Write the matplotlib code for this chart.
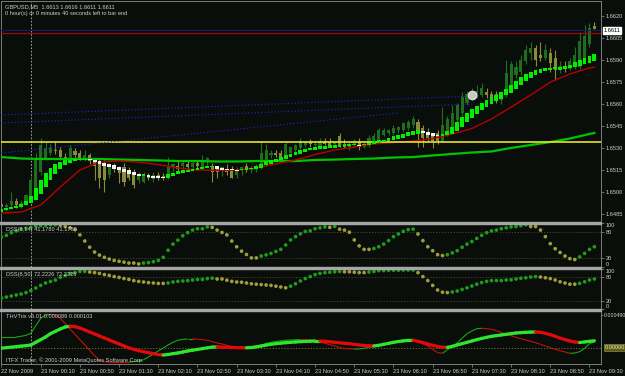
import numpy as np
import matplotlib.pyplot as plt
from matplotlib.patches import Rectangle
from matplotlib.collections import LineCollection
import matplotlib.transforms as mtransforms

plt.rcParams['font.family'] = ['Liberation Sans', 'DejaVu Sans']

# GBPUSD M5, bars from 22 Nov 23:30 to 23 Nov 09:35
opens = [1.6492, 1.6490, 1.6491, 1.6494, 1.6491, 1.6493, 1.6495, 1.6503, 1.6514, 1.6523,
         1.6527, 1.6529, 1.6529, 1.6524, 1.6522, 1.6528, 1.6527, 1.6523, 1.6525, 1.6521,
         1.6520, 1.6518, 1.6512, 1.6518, 1.6516, 1.6517, 1.6515, 1.6514, 1.6508, 1.6507,
         1.6511, 1.6509, 1.6512, 1.6511, 1.6510, 1.6517, 1.6518, 1.6518, 1.6519, 1.6517,
         1.6520, 1.6517, 1.6521, 1.6518, 1.6516, 1.6515, 1.6516, 1.6516, 1.6512, 1.6515,
         1.6518, 1.6515, 1.6516, 1.6517, 1.6520, 1.6525, 1.6527, 1.6527, 1.6525, 1.6527,
         1.6529, 1.6530, 1.6532, 1.6534, 1.6532, 1.6531, 1.6535, 1.6534, 1.6533, 1.6538,
         1.6533, 1.6531, 1.6533, 1.6535, 1.6531, 1.6532, 1.6535, 1.6535, 1.6539, 1.6540,
         1.6540, 1.6542, 1.6542, 1.6544, 1.6546, 1.6548, 1.6544, 1.6540, 1.6538, 1.6540,
         1.6535, 1.6539, 1.6544, 1.6549, 1.6554, 1.6561, 1.6565, 1.6566, 1.6566, 1.6568,
         1.6567, 1.6567, 1.6563, 1.6567, 1.6573, 1.6580, 1.6582, 1.6589, 1.6595, 1.6598,
         1.6593, 1.6591, 1.6595, 1.6591, 1.6584, 1.6585, 1.6584, 1.6586, 1.6585, 1.6590,
         1.6601, 1.6613]
highs = [1.6495, 1.6493, 1.6500, 1.6496, 1.6495, 1.6499, 1.6511, 1.6527, 1.6537, 1.6535,
         1.6533, 1.6534, 1.6531, 1.6527, 1.6532, 1.6530, 1.6529, 1.6529, 1.6527, 1.6523,
         1.6523, 1.6522, 1.6520, 1.6520, 1.6518, 1.6520, 1.6517, 1.6516, 1.6514, 1.6514,
         1.6513, 1.6514, 1.6514, 1.6513, 1.6524, 1.6520, 1.6521, 1.6522, 1.6521, 1.6521,
         1.6522, 1.6525, 1.6524, 1.6520, 1.6518, 1.6518, 1.6519, 1.6518, 1.6517, 1.6518,
         1.6520, 1.6518, 1.6519, 1.6535, 1.6533, 1.6529, 1.6529, 1.6529, 1.6534, 1.6531,
         1.6533, 1.6537, 1.6535, 1.6536, 1.6535, 1.6537, 1.6537, 1.6537, 1.6535, 1.6540,
         1.6536, 1.6535, 1.6536, 1.6537, 1.6535, 1.6539, 1.6540, 1.6544, 1.6544, 1.6543,
         1.6546, 1.6545, 1.6548, 1.6549, 1.6552, 1.6550, 1.6546, 1.6544, 1.6540, 1.6542,
         1.6558, 1.6552, 1.6559, 1.6561, 1.6568, 1.6569, 1.6571, 1.6573, 1.6574, 1.6571,
         1.6569, 1.6569, 1.6568, 1.6590, 1.6589, 1.6589, 1.6593, 1.6600, 1.6602, 1.6600,
         1.6602, 1.6601, 1.6598, 1.6597, 1.6589, 1.6589, 1.6591, 1.6599, 1.6609, 1.6614,
         1.6615, 1.6616]
lows = [1.6489, 1.6487, 1.6489, 1.6489, 1.6489, 1.6491, 1.6493, 1.6501, 1.6512, 1.6522,
        1.6525, 1.6526, 1.6522, 1.6520, 1.6520, 1.6523, 1.6522, 1.6521, 1.6519, 1.6508,
        1.6503, 1.6500, 1.6510, 1.6514, 1.6506, 1.6504, 1.6508, 1.6503, 1.6506, 1.6506,
        1.6508, 1.6507, 1.6508, 1.6508, 1.6509, 1.6514, 1.6514, 1.6515, 1.6515, 1.6516,
        1.6516, 1.6516, 1.6518, 1.6507, 1.6510, 1.6511, 1.6512, 1.6510, 1.6510, 1.6512,
        1.6514, 1.6513, 1.6514, 1.6516, 1.6518, 1.6523, 1.6524, 1.6522, 1.6524, 1.6525,
        1.6527, 1.6529, 1.6531, 1.6531, 1.6530, 1.6530, 1.6532, 1.6531, 1.6531, 1.6531,
        1.6530, 1.6529, 1.6531, 1.6529, 1.6530, 1.6531, 1.6534, 1.6534, 1.6538, 1.6539,
        1.6539, 1.6540, 1.6541, 1.6542, 1.6544, 1.6531, 1.6531, 1.6534, 1.6530, 1.6533,
        1.6534, 1.6538, 1.6542, 1.6548, 1.6552, 1.6559, 1.6563, 1.6564, 1.6565, 1.6564,
        1.6563, 1.6561, 1.6560, 1.6565, 1.6571, 1.6578, 1.6580, 1.6587, 1.6590, 1.6586,
        1.6589, 1.6590, 1.6582, 1.6576, 1.6581, 1.6582, 1.6583, 1.6584, 1.6584, 1.6588,
        1.6599, 1.6611]
closes = [1.6490, 1.6491, 1.6494, 1.6491, 1.6493, 1.6498, 1.6508, 1.6522, 1.6532, 1.6530,
          1.6530, 1.6528, 1.6524, 1.6522, 1.6530, 1.6525, 1.6523, 1.6525, 1.6521, 1.6518,
          1.6510, 1.6508, 1.6518, 1.6516, 1.6513, 1.6507, 1.6510, 1.6505, 1.6512, 1.6512,
          1.6510, 1.6512, 1.6510, 1.6510, 1.6517, 1.6519, 1.6516, 1.6520, 1.6517, 1.6520,
          1.6518, 1.6522, 1.6523, 1.6514, 1.6514, 1.6517, 1.6514, 1.6510, 1.6515, 1.6517,
          1.6515, 1.6516, 1.6518, 1.6527, 1.6529, 1.6527, 1.6525, 1.6523, 1.6533, 1.6531,
          1.6532, 1.6535, 1.6534, 1.6533, 1.6533, 1.6535, 1.6533, 1.6532, 1.6534, 1.6532,
          1.6531, 1.6533, 1.6535, 1.6531, 1.6533, 1.6537, 1.6538, 1.6542, 1.6542, 1.6542,
          1.6544, 1.6544, 1.6547, 1.6548, 1.6550, 1.6542, 1.6537, 1.6537, 1.6535, 1.6535,
          1.6546, 1.6550, 1.6554, 1.6559, 1.6565, 1.6567, 1.6566, 1.6569, 1.6571, 1.6566,
          1.6565, 1.6563, 1.6566, 1.6581, 1.6587, 1.6585, 1.6590, 1.6597, 1.6598, 1.6590,
          1.6591, 1.6597, 1.6588, 1.6583, 1.6586, 1.6584, 1.6589, 1.6593, 1.6603, 1.6606,
          1.6612, 1.6611]

# smoothed Heiken Ashi bodies
ha_open = [1.64865, 1.64876, 1.64886, 1.64893, 1.64899, 1.64910, 1.64927, 1.64950, 1.64988, 1.65035,
           1.65083, 1.65124, 1.65158, 1.65182, 1.65199, 1.65212, 1.65219, 1.65222, 1.65229, 1.65222,
           1.65212, 1.65202, 1.65192, 1.65182, 1.65171, 1.65161, 1.65151, 1.65137, 1.65127, 1.65110,
           1.65117, 1.65110, 1.65107, 1.65103, 1.65100, 1.65110, 1.65124, 1.65131, 1.65137, 1.65144,
           1.65151, 1.65158, 1.65165, 1.65171, 1.65175, 1.65168, 1.65161, 1.65158, 1.65154, 1.65151,
           1.65154, 1.65158, 1.65161, 1.65168, 1.65182, 1.65195, 1.65205, 1.65216, 1.65226, 1.65239,
           1.65250, 1.65260, 1.65273, 1.65284, 1.65290, 1.65294, 1.65297, 1.65301, 1.65304, 1.65307,
           1.65311, 1.65314, 1.65318, 1.65324, 1.65318, 1.65321, 1.65328, 1.65335, 1.65341, 1.65348,
           1.65355, 1.65362, 1.65372, 1.65382, 1.65392, 1.65399, 1.65413, 1.65409, 1.65403, 1.65392,
           1.65382, 1.65386, 1.65396, 1.65416, 1.65443, 1.65477, 1.65505, 1.65532, 1.65559, 1.65579,
           1.65600, 1.65620, 1.65637, 1.65658, 1.65678, 1.65702, 1.65729, 1.65756, 1.65777, 1.65794,
           1.65811, 1.65824, 1.65831, 1.65838, 1.65834, 1.65838, 1.65845, 1.65851, 1.65858, 1.65872,
           1.65882, 1.65892]
ha_close = [1.64886, 1.64893, 1.64899, 1.64906, 1.64920, 1.64940, 1.64974, 1.65029, 1.65083, 1.65131,
            1.65165, 1.65192, 1.65205, 1.65216, 1.65222, 1.65226, 1.65229, 1.65229, 1.65219, 1.65205,
            1.65192, 1.65178, 1.65171, 1.65161, 1.65151, 1.65137, 1.65127, 1.65117, 1.65107, 1.65124,
            1.65103, 1.65100, 1.65100, 1.65097, 1.65124, 1.65134, 1.65141, 1.65148, 1.65154, 1.65161,
            1.65165, 1.65171, 1.65175, 1.65178, 1.65161, 1.65154, 1.65151, 1.65151, 1.65144, 1.65161,
            1.65165, 1.65168, 1.65178, 1.65195, 1.65209, 1.65219, 1.65229, 1.65239, 1.65250, 1.65263,
            1.65273, 1.65287, 1.65297, 1.65304, 1.65307, 1.65311, 1.65314, 1.65318, 1.65321, 1.65324,
            1.65328, 1.65331, 1.65331, 1.65311, 1.65331, 1.65338, 1.65345, 1.65352, 1.65358, 1.65369,
            1.65379, 1.65389, 1.65399, 1.65409, 1.65416, 1.65420, 1.65403, 1.65392, 1.65382, 1.65379,
            1.65396, 1.65416, 1.65443, 1.65477, 1.65511, 1.65539, 1.65566, 1.65586, 1.65607, 1.65627,
            1.65647, 1.65661, 1.65681, 1.65702, 1.65729, 1.65756, 1.65783, 1.65804, 1.65817, 1.65831,
            1.65841, 1.65845, 1.65848, 1.65851, 1.65851, 1.65858, 1.65868, 1.65885, 1.65899, 1.65913,
            1.65926, 1.65940]

# moving averages, read every 4 bars
ma_idx = [0, 4, 8, 12, 16, 20, 24, 28, 32, 36, 40, 44, 48, 52, 56, 60,
          64, 68, 72, 76, 80, 84, 88, 92, 96, 100, 104, 108, 112, 116, 120, 121]
ma_red = [1.64859, 1.64865, 1.64913, 1.65035, 1.65151, 1.65205, 1.65212, 1.65205,
          1.65188, 1.65165, 1.65151, 1.65148, 1.65151, 1.65165, 1.65192, 1.65219,
          1.65256, 1.65287, 1.65307, 1.65328, 1.65338, 1.65348, 1.65365, 1.65396,
          1.65433, 1.65498, 1.65579, 1.65661, 1.65749, 1.65804, 1.65845, 1.65851]
ma_green = [1.65239, 1.65229, 1.65226, 1.65226, 1.65226, 1.65226, 1.65222, 1.65219,
            1.65216, 1.65212, 1.65212, 1.65209, 1.65209, 1.65212, 1.65212, 1.65212,
            1.65219, 1.65222, 1.65226, 1.65229, 1.65236, 1.65239, 1.65250, 1.65260,
            1.65270, 1.65277, 1.65301, 1.65321, 1.65341, 1.65365, 1.65396, 1.65403]

level_yellow = 1.6534
bid_line = 1.6608
ask_line = 1.6610
chan_x = [0, 96]
chan_top = [1.65525, 1.65654]
chan_mid = [1.65471, 1.65600]
chan_low_x = [0, 81]
chan_low = [1.65267, 1.65539]
mark_idx, mark_price = 96, 1.65661

dss_fast = [68, 72, 78, 82, 86, 88, 90, 93, 94, 95,
            96, 96, 95, 92, 89, 85, 73, 59, 45, 34,
            27, 22, 18, 15, 13, 11, 9, 9, 7, 9,
            10, 12, 15, 22, 38, 52, 61, 71, 78, 84,
            87, 87, 91, 90, 84, 78.5, 73, 59, 46, 36,
            28.5, 20.7, 20.7, 25, 27.6, 30.8, 35.4, 40, 50, 61.5,
            69, 75.4, 80.8, 82.3, 87, 89, 91, 90, 92.3, 86,
            83.8, 79, 61.5, 48, 40, 40, 42, 46, 52, 60,
            69, 75, 81, 85, 86, 75, 60, 46, 37, 28,
            26, 28, 32, 37, 45, 52, 58, 65, 72, 78,
            82, 84, 87, 89, 91, 92, 94, 96, 92, 92,
            84, 69, 53, 41.5, 33, 25, 19, 17, 23, 31,
            40, 46]
dss_slow = [27.5, 30, 32.5, 35, 37.5, 41, 46, 52.5, 59, 65,
            69, 72.5, 79, 84, 89, 91, 94, 94, 92.5, 91,
            89, 86, 84, 81, 79, 76, 74, 71, 69, 67.5,
            66, 65, 64, 64, 65, 67.5, 69, 70, 71, 72.5,
            74, 74, 76, 77, 75, 75, 72, 69, 67.5, 67,
            65, 63, 62, 61, 60, 59, 57, 55, 53, 57,
            63, 70, 76, 81, 86, 89, 91, 92, 93, 94,
            93, 93, 92, 91, 91, 92.5, 94, 96, 96, 97,
            97, 97, 97.5, 97.5, 97.5, 91, 81, 71, 59, 47.5,
            42, 41, 42.5, 45, 49, 53, 57.5, 62, 66, 69,
            71, 71, 71, 72.5, 73, 75, 77, 78, 80, 81,
            80, 78, 76, 72.5, 68, 65, 62, 62, 64, 68,
            72.5, 75]

# THVTrix, in units of 1e-5
trix_main = [-0.7, 0, 0.7, 1.5, 2.3, 3.0, 4, 8, 12, 16,
             21, 24.5, 28, 31, 32, 31.5, 29.5, 26.5, 23.5, 20.5,
             17.5, 14.5, 11.5, 8.5, 5.5, 2.5, -0.5, -2.5, -4.5, -6,
             -7.5, -9, -10.5, -11, -10.3, -9, -8, -6.5, -5, -3.8,
             -2.6, -1.5, -0.3, 0.8, 1.2, 0.8, 0.4, 0.2, 0, -0.1,
             -0.2, 0.2, 1.3, 2.5, 3.8, 5, 6, 6.8, 7.4, 8,
             8.5, 9, 9.4, 9.7, 10, 10, 9.5, 8.8, 8, 7.3,
             6.5, 6, 5, 4, 3.3, 2.8, 2.6, 3.5, 5, 6.5,
             8, 9.2, 10.2, 10.8, 11, 9.5, 7.5, 5.5, 3.5, 1.8,
             0.6, 0.5, 2, 4, 6, 8, 10, 12, 13.8, 15.5,
             17, 18, 19, 20, 21, 22, 22.5, 23, 23.3, 23.5,
             23, 21.5, 19.5, 17, 14.5, 12, 10, 8.5, 7.7, 8.6,
             9.5, 10.3]
trix_sig = [16, 16, 16, 16, 17, 18.5, 21.5, 33, 44, 49,
            50, 49, 44, 36, 28, 20, 12, 4, -4, -12,
            -19, -21, -21.5, -21.5, -21.5, -21.5, -21.5, -21, -20, -18,
            -14, -9.5, -5, -0.5, 4, 8, 11, 12.5, 13, 13,
            12.8, 12, 11, 9, 7, 5.5, 3.5, 1.8, 0.8, 0,
            -0.8, -1.2, -0.5, 3, 6.3, 8, 9.3, 10.3, 11, 11.5,
            11.8, 12, 11.8, 11, 10, 8.6, 6.5, 4.5, 2.5, 0,
            -1.4, -1.8, -2.2, -2, -0.8, 0.4, 1.6, 3, 4.5, 6,
            7.3, 8.4, 9.8, 11, 12, 9.5, 6, 2.5, -2.5, -7.5,
            -8.5, -3, 1, 7, 14, 21, 25, 28.5, 29, 28.5,
            27.5, 25.5, 23, 20.5, 18, 15.5, 13.5, 11.5, 9.5, 7.5,
            5, 2.5, 0, -2.5, -4.5, -6.5, -8.5, -8, -6, -1,
            6, 8.9]

price_ticks = [1.6620, 1.6605, 1.6590, 1.6575, 1.6560, 1.6545, 1.6530, 1.6515, 1.6500, 1.6485]
time_ticks = [0, 8, 16, 24, 32, 40, 48, 56, 64, 72, 80, 88, 96, 104, 112, 120]
time_labels = ['22 Nov 2009', '23 Nov 00:10', '23 Nov 00:50', '23 Nov 01:30', '23 Nov 02:10',
               '23 Nov 02:50', '23 Nov 03:30', '23 Nov 04:10', '23 Nov 04:50', '23 Nov 05:30',
               '23 Nov 06:10', '23 Nov 06:50', '23 Nov 07:30', '23 Nov 08:10', '23 Nov 08:50',
               '23 Nov 09:30']
day_start = 6

BG = '#0a0e0a'
TXT = '#cfcfcf'
FRAME = '#7c7c7c'
SEP = '#a6a6a6'
FS = 4.1

W, H = 625, 376
fig = plt.figure(figsize=(W / 100, H / 100), dpi=100)
fig.patch.set_facecolor(BG)


def panel(top, bottom):
    a = fig.add_axes([1 / W, 1 - bottom / H, 600 / W, (bottom - top) / H])
    a.set_facecolor(BG)
    for s in a.spines.values():
        s.set_color(FRAME)
        s.set_linewidth(0.7)
    a.set_xlim(-0.1, 122.35)
    a.yaxis.tick_right()
    a.tick_params(axis='y', direction='out', length=2, width=0.6, pad=1.5,
                  color=FRAME, labelcolor=TXT, labelsize=FS)
    a.tick_params(axis='x', bottom=False, labelbottom=False)
    a.axvline(day_start, color='#b8b8b8', lw=0.6, ls=(0, (2, 2)), zorder=1)
    return a


def slope_colors(v, up, down):
    out = []
    cur = up
    for k in range(len(v)):
        if k > 0 and v[k] > v[k - 1]:
            cur = up
        elif k > 0 and v[k] < v[k - 1]:
            cur = down
        out.append(cur)
    return out


idx = np.arange(len(closes))
o = np.array(opens); c = np.array(closes)
hi = np.array(highs); lo = np.array(lows)

# ---------- main price window ----------
ax = panel(1, 222)
ax.set_ylim(1.647974, 1.663002)
ax.set_yticks(price_ticks)
ax.set_yticklabels(['%.4f' % p for p in price_ticks])

up = c >= o
body_col = np.where(up, '#1f6e1f', '#8a8a3c')
ax.vlines(idx, lo, hi, colors=body_col, lw=0.8, zorder=2)
ax.bar(idx, np.maximum(np.abs(c - o), 0.00002), bottom=np.minimum(o, c), width=0.62,
       color=body_col, linewidth=0, zorder=2)

ho = np.array(ha_open); hc = np.array(ha_close)
ha_col = np.where(hc >= ho, '#00f000', '#f4f4f4')
ax.bar(idx, np.maximum(np.abs(hc - ho), 0.00002), bottom=np.minimum(ho, hc), width=0.78,
       color=ha_col, linewidth=0, zorder=4)

ax.plot(ma_idx, ma_green, color='#00c400', lw=1.6, zorder=3)
ax.plot(ma_idx, ma_red, color='#b80000', lw=1.0, zorder=3)
ax.axhline(level_yellow, color='#e4e42c', lw=1.2, zorder=3)
ax.axhline(bid_line, color='#9a0c0c', lw=0.9, zorder=3)
ax.axhline(ask_line, color='#1a1a5a', lw=0.8, zorder=3)
ax.plot(chan_x, chan_top, color='#2424d6', lw=0.8, ls=(0, (1, 2)), zorder=3)
ax.plot(chan_x, chan_mid, color='#2424d6', lw=0.8, ls=(0, (1, 2)), zorder=3)
ax.plot(chan_low_x, chan_low, color='#2424d6', lw=0.8, ls=(0, (1, 2)), zorder=3)
ax.scatter([mark_idx], [mark_price], s=40, facecolor='#c8c8c8', edgecolor='#f0f0f0',
           linewidth=0.6, zorder=6)

tr = mtransforms.blended_transform_factory(ax.transAxes, ax.transData)
ax.text(1.004, ask_line, '%.4f' % closes[-1], transform=tr, fontsize=FS, color='black',
        va='center', ha='left', zorder=7,
        bbox=dict(boxstyle='square,pad=0.15', fc='white', ec='white'))

# ---------- DSS windows ----------
for a_top, a_bot, vals, label in [(223, 267, dss_fast, 'DSS(8,14) 41.1780 41.1780'),
                                  (269, 309, dss_slow, 'DSS(8,50) 72.2226 72.2226')]:
    a = panel(a_top, a_bot)
    a.set_ylim(0, 100)
    a.axhline(80, color='#4c4c2c', lw=0.6, ls=(0, (1.5, 2)))
    a.axhline(20, color='#4c4c2c', lw=0.6, ls=(0, (1.5, 2)))
    a.scatter(idx, vals, s=7, c=slope_colors(vals, '#1e9c1e', '#a09e3a'), linewidths=0, zorder=3)
    a.set_yticks([0, 20, 80, 100])
    labs = a.set_yticklabels(['0', '20', '80', '100'])
    labs[0].set_va('bottom')
    labs[3].set_va('top')
    a.text(0.008, 0.86, label, transform=a.transAxes, fontsize=FS, color=TXT, va='center', zorder=6)

# ---------- THVTrix window ----------
ax3 = panel(310.5, 364)
ax3.set_ylim(-24.5, 55.7)
ax3.axhline(0, color='#7a7a2a', lw=0.6, ls=(0, (1.5, 2)))
tm = np.array(trix_main); ts = np.array(trix_sig)
seg_m = [[(k - 1, tm[k - 1]), (k, tm[k])] for k in range(1, len(tm))]
seg_s = [[(k - 1, ts[k - 1]), (k, ts[k])] for k in range(1, len(ts))]
ax3.add_collection(LineCollection(seg_s, colors=slope_colors(ts, '#14a814', '#c81010')[1:],
                                  linewidths=0.8, zorder=3))
ax3.add_collection(LineCollection(seg_m, colors=slope_colors(tm, '#2ee62e', '#e00a0a')[1:],
                                  linewidths=2.3, capstyle='round', zorder=4))
ax3.set_yticks([49])
ax3.set_yticklabels(['0.000490'])
ax3.tick_params(axis='y', length=1.2, pad=0.6, labelsize=3.8)
tr3 = mtransforms.blended_transform_factory(ax3.transAxes, ax3.transData)
ax3.text(1.006, 0, '0.00000', transform=tr3, fontsize=FS, color='#e8e8b8', va='center',
         ha='left', bbox=dict(boxstyle='square,pad=0.15', fc='#5e5e18', ec='#8a8a3a', lw=0.5))
ax3.text(0.008, 0.885, 'THVTrix v5.01 0.000089 0.000103', transform=ax3.transAxes,
         fontsize=FS, color=TXT, va='center')
ax3.text(0.008, 0.07, 'ITFX Trader, \u00a9 2001-2009 MetaQuotes Software Corp.',
         transform=ax3.transAxes, fontsize=FS, color=TXT, va='center', zorder=6)
ax3.tick_params(axis='x', bottom=True, labelbottom=True, direction='out', length=2.5,
                width=0.6, pad=0.8, color=FRAME, labelcolor=TXT, labelsize=FS)
ax3.set_xticks(time_ticks)
ax3.set_xticklabels(time_labels, ha='left')

# window separators
for y0 in [222, 267, 308.8]:
    fig.add_artist(Rectangle((0, 1 - (y0 + 2) / H), 601 / W, 2 / H, transform=fig.transFigure,
                             color=SEP, zorder=10))

fig.text(5 / W, 1 - 6.5 / H, 'GBPUSD,M5  1.6613 1.6616 1.6611 1.6611', fontsize=FS,
         color=TXT, va='center')
fig.text(5 / W, 1 - 13 / H, '0 hour(s) or 0 minutes 40 seconds left to bar end', fontsize=FS,
         color=TXT, va='center')

fig.savefig('out.png', dpi=100, facecolor=BG)
